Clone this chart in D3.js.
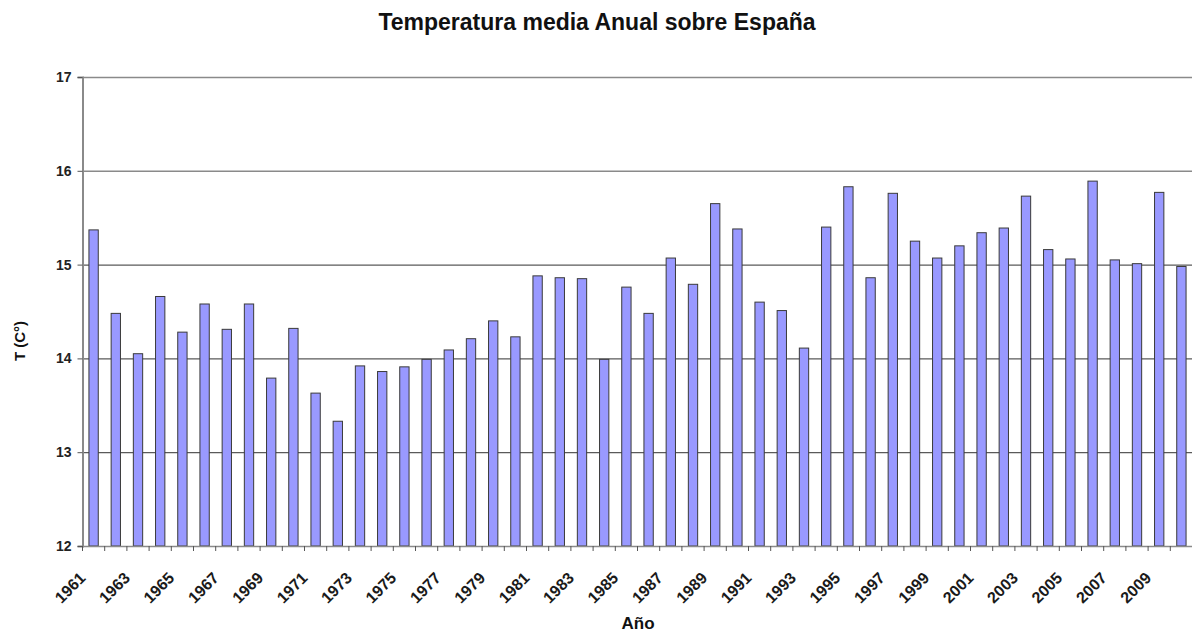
<!DOCTYPE html>
<html>
<head>
<meta charset="utf-8">
<script src="https://cdn.jsdelivr.net/npm/d3@7"></script>
<style>
  body { margin: 0; background: #fff; }
  text { font-family: "Liberation Sans", Arial, sans-serif; }
</style>
</head>
<body>
<div id="chart"></div>
<script>
let years = d3.range(1961, 2011);
let temps = [
    15.37, 14.48, 14.05, 14.66, 14.28, 14.58, 14.31, 14.58, 13.79, 14.32,
    13.63, 13.33, 13.92, 13.86, 13.91, 13.99, 14.09, 14.21, 14.40, 14.23,
    14.88, 14.86, 14.85, 13.99, 14.76, 14.48, 15.07, 14.79, 15.65, 15.38,
    14.60, 14.51, 14.11, 15.40, 15.83, 14.86, 15.76, 15.25, 15.07, 15.20,
    15.34, 15.39, 15.73, 15.16, 15.06, 15.89, 15.05, 15.01, 15.77, 14.98
];
let yTicks = [12, 13, 14, 15, 16, 17];

let width = 1192, height = 634;
let margin = { top: 77, right: 0, bottom: 88, left: 82.5 };

let svg = d3.select("#chart")
    .append("svg")
    .attr("width", width)
    .attr("height", height);

let x = d3.scaleBand()
    .domain(years)
    .range([margin.left, 1192.5])
    .paddingInner(0.58)
    .paddingOuter(0.29);

let y = d3.scaleLinear()
    .domain([12, 17])
    .range([546, margin.top]);

// gridlines
svg.append("g")
    .selectAll("line")
    .data(yTicks.slice(1))
    .enter()
    .append("line")
    .attr("x1", margin.left)
    .attr("x2", width)
    .attr("y1", d => y(d) + 0.5)
    .attr("y2", d => y(d) + 0.5)
    .attr("stroke", d => d >= 16 ? "#8a8a8a" : "#5a5a5a")
    .attr("stroke-width", d => d >= 16 ? 1.6 : 1.2);

// bars
svg.append("g")
    .selectAll("rect")
    .data(years)
    .enter()
    .append("rect")
    .attr("x", d => x(d))
    .attr("y", (d, i) => y(temps[i]))
    .attr("width", x.bandwidth())
    .attr("height", (d, i) => y(12) - y(temps[i]))
    .attr("fill", "#9999ff")
    .attr("stroke", "#3a3a3a")
    .attr("stroke-width", 1);

// y axis
let yAxis = svg.append("g")
    .attr("transform", "translate(" + margin.left + ",0)")
    .call(d3.axisLeft(y).tickValues(yTicks).tickSize(5).tickFormat(d3.format("d")));
yAxis.select(".domain").attr("stroke", "#8a8a8a").attr("stroke-width", 2);
yAxis.selectAll(".tick line").attr("stroke", "#555");
yAxis.selectAll(".tick text")
    .attr("x", -11)
    .style("font-size", "14px")
    .style("font-weight", "bold")
    .style("font-family", "'Liberation Sans', Arial, sans-serif")
    .attr("fill", "#222");

// x axis
let gap = (x.step() - x.bandwidth()) / 2;
let xAxisG = svg.append("g").attr("transform", "translate(0,546)");
xAxisG.append("line")
    .attr("x1", margin.left).attr("x2", width)
    .attr("y1", 0.5).attr("y2", 0.5)
    .attr("stroke", "#8a8a8a").attr("stroke-width", 1.5);
xAxisG.selectAll(".xtick")
    .data(years)
    .enter()
    .append("line")
    .attr("class", "xtick")
    .attr("x1", d => x(d) - gap)
    .attr("x2", d => x(d) - gap)
    .attr("y1", 0)
    .attr("y2", 5)
    .attr("stroke", "#555");

xAxisG.selectAll(".xlabel")
    .data(years.filter(d => d % 2 == 1))
    .enter()
    .append("text")
    .attr("class", "xlabel")
    .attr("text-anchor", "end")
    .attr("transform", d => "translate(" + (x(d) + x.bandwidth() / 2 - 7) + ",33) rotate(-45)")
    .style("font-size", "16px")
    .style("font-weight", "bold")
    .attr("fill", "#1a1a1a")
    .text(d => d);

// titles
svg.append("text")
    .attr("x", 597)
    .attr("y", 30)
    .attr("text-anchor", "middle")
    .style("font-size", "23px")
    .style("font-weight", "bold")
    .attr("fill", "#111")
    .text("Temperatura media Anual sobre España");

svg.append("text")
    .attr("x", 638)
    .attr("y", 629)
    .attr("text-anchor", "middle")
    .style("font-size", "17px")
    .style("font-weight", "bold")
    .attr("fill", "#111")
    .text("Año");

svg.append("text")
    .attr("transform", "translate(25,341) rotate(-90)")
    .attr("text-anchor", "middle")
    .style("font-size", "15px")
    .style("font-weight", "bold")
    .attr("fill", "#111")
    .text("T (C°)");
</script>
</body>
</html>
